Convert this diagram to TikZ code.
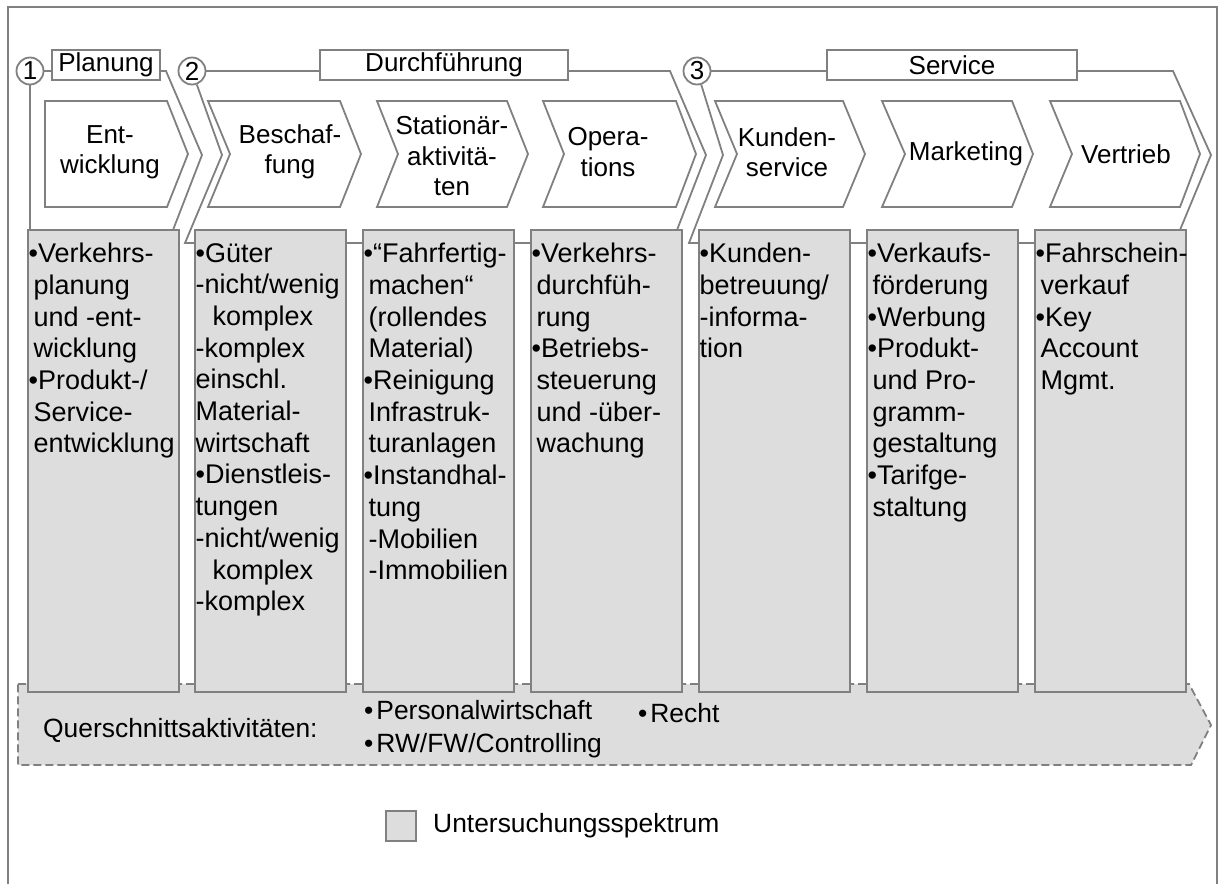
\documentclass[tikz,border=0pt]{standalone}
\usepackage{fontspec}
\setmainfont{Liberation Sans}
\definecolor{linegray}{RGB}{128,128,128}
\definecolor{boxgray}{RGB}{221,221,221}
\newcommand\ind{\hspace*{5pt}}
\newcommand\boxfont{\fontsize{27}{31.7}\selectfont}
\newcommand\headfont{\fontsize{26}{30.5}\selectfont}
\newcommand\bandfont{\fontsize{26.4}{33}\selectfont}
\begin{document}
\begin{tikzpicture}[x=1pt,y=-1pt,
  conn/.style={draw=linegray, line width=1.8pt, line join=miter},
  actbox/.style={draw=linegray, line width=1.8pt, fill=boxgray, minimum width=151pt,
    minimum height=462pt, anchor=north west, inner sep=0pt, outer sep=0pt},
  chev/.style={draw=linegray, line width=1.8pt, fill=white, line join=miter},
  phasebox/.style={draw=linegray, line width=1.8pt, fill=white, anchor=north west,
    minimum height=30pt, inner sep=0pt, outer sep=0pt, font=\headfont},
  num/.style={circle, draw=linegray, line width=1.8pt, fill=white, minimum size=27pt,
    inner sep=0pt, font=\headfont},
  boxtext/.style={anchor=north west, inner sep=0pt, align=left, font=\boxfont},
  headtext/.style={align=center, inner sep=0pt, font=\headfont},
]
\useasboundingbox (0,0) rectangle (1223,884);

% outer frame, open at the bottom
\draw[linegray, line width=2pt] (8,884) -- (8,7) -- (1217,7) -- (1217,884);

% cross-sectional band behind the activity columns
\draw[conn, fill=boxgray, dash pattern=on 8pt off 4pt]
  (18,684) -- (1189,684) -- (1211,725) -- (1191,765) -- (18,765) -- cycle;

% activity columns
\node[actbox] (b1) at (28,230) {};
\node[actbox] (b2) at (195,230) {};
\node[actbox] (b3) at (363,230) {};
\node[actbox] (b4) at (531,230) {};
\node[actbox] (b5) at (699,230) {};
\node[actbox] (b6) at (867,230) {};
\node[actbox] (b7) at (1035,230) {};

% chevrons of the value chain
\draw[chev] (45,101) -- (167,101) -- (188,154) -- (167,207) -- (45,207) -- cycle;
\draw[chev] (208,101) -- (340,101) -- (361,154) -- (340,207) -- (208,207) -- (230,154) -- cycle;
\draw[chev] (377,101) -- (507,101) -- (528,154) -- (507,207) -- (377,207) -- (398,154) -- cycle;
\draw[chev] (543,101) -- (676,101) -- (696,154) -- (676,207) -- (543,207) -- (564,154) -- cycle;
\draw[chev] (715,101) -- (843,101) -- (865,154) -- (843,207) -- (715,207) -- (737,154) -- cycle;
\draw[chev] (882,101) -- (1012,101) -- (1033,154) -- (1012,207) -- (882,207) -- (905,154) -- cycle;
\draw[chev] (1050,101) -- (1180,101) -- (1200,154) -- (1180,207) -- (1050,207) -- (1072,154) -- cycle;

\node[headtext] (h1) at (110,152) {Ent-\\wicklung};
\node[headtext] (h2) at (290,152) {Beschaf-\\fung};
\node[headtext] (h3) at (452,156) {Stationär-\\aktivitä-\\ten};
\node[headtext] (h4) at (608,152) {Opera-\\tions};
\node[headtext] (h5) at (787,152) {Kunden-\\service};
\node[headtext] (h6) at (966,154) {Marketing};
\node[headtext] (h7) at (1126,154) {Vertrieb};

% phase labels
\node[num] (c1) at (30,71) {1};
\node[num] (c2) at (192,71) {2};
\node[num] (c3) at (697,71) {3};
\node[phasebox, minimum width=108pt] (pl) at (52,50) {Planung};
\node[phasebox, minimum width=248pt] (du) at (320,50) {Durchführung};
\node[phasebox, minimum width=250pt] (se) at (827,50) {Service};

% bend points of the phase brackets
\coordinate (p1a) at (166,71);
\coordinate (p1b) at (202,155);
\coordinate (p2a) at (222,155);
\coordinate (p2b) at (185,243);
\coordinate (d1a) at (670,71);
\coordinate (d1b) at (706,155);
\coordinate (p3a) at (723,155);
\coordinate (p3b) at (689,243);
\coordinate (s1a) at (1173,71);
\coordinate (s1b) at (1211,155);

% phase 1
\draw[conn] (c1) -- (c1 -| pl.west);
\draw[conn] (c1) -- (c1 |- b1.north);
\draw[conn] (p1a -| pl.east) -- (p1a) -- (p1b) -- ([xshift=-6pt]b1.north east);
% phase 2
\draw[conn] (c2) -- (c2 -| du.west);
\draw[conn] (c2) -- (p2a) -- (p2b) -- (p2b -| b2.west);
\draw[conn] ([yshift=-13pt]b2.north east) -- ([yshift=-13pt]b3.north west);
\draw[conn] ([yshift=-13pt]b3.north east) -- ([yshift=-13pt]b4.north west);
\draw[conn] (d1a -| du.east) -- (d1a) -- (d1b) -- ([xshift=-5pt]b4.north east);
% phase 3
\draw[conn] (c3) -- (c3 -| se.west);
\draw[conn] (c3) -- (p3a) -- (p3b) -- (p3b -| b5.west);
\draw[conn] ([yshift=-13pt]b5.north east) -- ([yshift=-13pt]b6.north west);
\draw[conn] ([yshift=-13pt]b6.north east) -- ([yshift=-13pt]b7.north west);
\draw[conn] (s1a -| se.east) -- (s1a) -- (s1b) -- ([xshift=-6pt]b7.north east);

% column contents
\node[boxtext] (t1) at (28.5,243) {•Verkehrs-\\\ind planung\\\ind und -ent-\\\ind wicklung\\•Produkt-/\\\ind Service-\\\ind entwicklung};
\node[boxtext] (t2) at (195.5,243) {•Güter\\-nicht/wenig\\\hspace*{17pt}komplex\\-komplex\\einschl.\\Material-\\wirtschaft\\•Dienstleis-\\tungen\\-nicht/wenig\\\hspace*{17pt}komplex\\-komplex};
\node[boxtext] (t3) at (363.5,243) {•“Fahrfertig-\\\ind machen“\\\ind (rollendes\\\ind Material)\\•Reinigung\\\ind Infrastruk-\\\ind turanlagen\\•Instandhal-\\\ind tung\\\ind -Mobilien\\\ind -Immobilien};
\node[boxtext] (t4) at (531.5,243) {•Verkehrs-\\\ind durchfüh-\\\ind rung\\•Betriebs-\\\ind steuerung\\\ind und -über-\\\ind wachung};
\node[boxtext] (t5) at (699.5,243) {•Kunden-\\betreuung/\\-informa-\\tion};
\node[boxtext] (t6) at (867.5,243) {•Verkaufs-\\\ind förderung\\•Werbung\\•Produkt-\\\ind und Pro-\\\ind gramm-\\\ind gestaltung\\•Tarifge-\\\ind staltung};
\node[boxtext] (t7) at (1035.5,243) {•Fahrschein-\\\ind verkauf\\•Key\\\ind Account\\\ind Mgmt.};

% band texts
\node[anchor=west, inner sep=0pt, font=\bandfont] (qa) at (43,730) {Querschnittsaktivitäten:};
\node[anchor=west, inner sep=0pt, align=left, font=\bandfont] (qb) at (364,729) {•\hspace{3pt}Personalwirtschaft\\•\hspace{3pt}RW/FW/Controlling};
\node[anchor=west, inner sep=0pt, font=\bandfont] (qc) at (638,713) {•\hspace{3pt}Recht};

% legend
\node[draw=linegray, line width=1.8pt, fill=boxgray, minimum size=30pt, inner sep=0pt] (lg) at (401,826) {};
\node[anchor=west, inner sep=0pt, font=\bandfont] (lt) at (433,826) {Untersuchungsspektrum};
\end{tikzpicture}
\end{document}
